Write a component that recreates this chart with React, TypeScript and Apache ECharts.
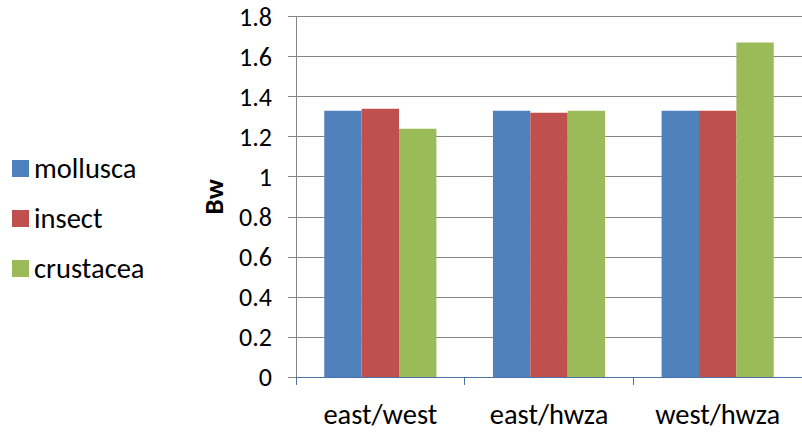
import React, { useEffect, useRef } from "react";
import * as echarts from "echarts";

const categories = ["east/west", "east/hwza", "west/hwza"];
const mollusca = [1.33, 1.33, 1.33];
const insect = [1.34, 1.32, 1.33];
const crustacea = [1.24, 1.33, 1.67];
const yTicks = ["0", "0.2", "0.4", "0.6", "0.8", "1", "1.2", "1.4", "1.6", "1.8"];

const FONT = "Carlito, 'Open Sans', 'Liberation Sans', sans-serif";

export default function App() {
  const ref = useRef<HTMLDivElement>(null);

  useEffect(() => {
    if (!ref.current) return;
    const chart = echarts.init(ref.current, null, { renderer: "svg" });
    const mk = (name: string, data: number[], color: string) => ({
      name,
      type: "bar",
      data,
      barGap: "0%",
      barCategoryGap: "33.5%",
      itemStyle: { color },
    });
    chart.setOption({
      animation: false,
      backgroundColor: "#ffffff",
      textStyle: { fontFamily: FONT },
      legend: {
        orient: "vertical",
        left: 7,
        top: 149,
        itemWidth: 17,
        itemHeight: 17,
        itemGap: 21,
        icon: "rect",
        textStyle: { fontSize: 28.5, color: "#000", fontFamily: FONT },
        data: ["mollusca", "insect", "crustacea"],
      },
      grid: { left: 296, top: 16.5, width: 514.5, height: 360.5, containLabel: false },
      xAxis: {
        type: "category",
        data: categories,
        axisLine: { lineStyle: { color: "#4a72a8", width: 1 } },
        axisTick: { show: true, length: 8, lineStyle: { color: "#4a72a8" } },
        axisLabel: { fontSize: 28.5, color: "#000", margin: 23, fontFamily: FONT },
      },
      yAxis: {
        type: "value",
        min: 0,
        max: 1.8,
        interval: 0.2,
        name: "Bw",
        nameLocation: "middle",
        nameGap: 69.5,
        nameRotate: 90,
        nameTextStyle: { fontSize: 27, fontWeight: "bold", color: "#000", fontFamily: FONT },
        axisLine: { show: true, lineStyle: { color: "#868686" } },
        axisTick: { show: true, length: 8, lineStyle: { color: "#868686" } },
        splitLine: { lineStyle: { color: "#868686", width: 1 } },
        axisLabel: {
          fontSize: 26,
          color: "#000",
          margin: 24,
          fontFamily: FONT,
          formatter: (v: number) => yTicks[Math.round(v / 0.2)] ?? String(v),
        },
      },
      series: [
        mk("mollusca", mollusca, "#4f81bd"),
        mk("insect", insect, "#c0504d"),
        mk("crustacea", crustacea, "#9bbb59"),
      ],
    });
    return () => chart.dispose();
  }, []);

  return <div ref={ref} style={{ width: 802, height: 432, position: "absolute", left: 0, top: 0 }} />;
}
